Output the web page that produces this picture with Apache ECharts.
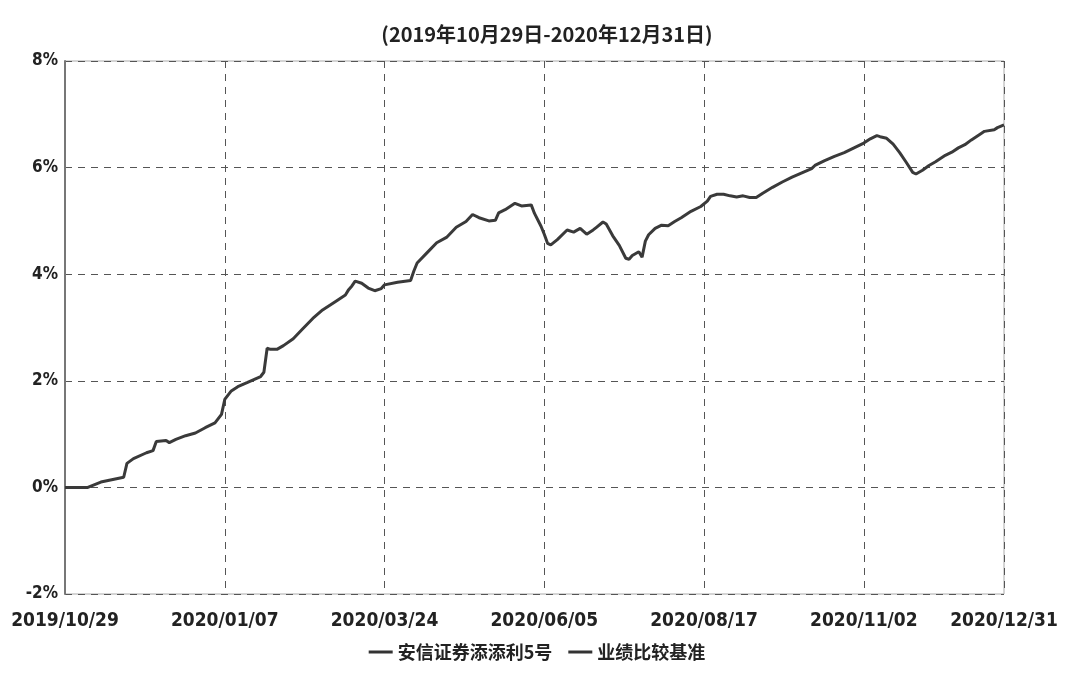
<!DOCTYPE html>
<html>
<head>
<meta charset="utf-8">
<script src="https://cdn.jsdelivr.net/npm/echarts@6/dist/echarts.min.js"></script>
<style>
html,body{margin:0;padding:0;background:#fff;}
#chart{width:1074px;height:690px;}
</style>
</head>
<body>
<div id="chart"></div>
<script>
// Trading-day index (0 = 2019/10/29, 288 = 2020/12/31)
const tickIdx = [0, 49, 98, 147, 196, 245, 288];
const tickLabels = ['2019/10/29', '2020/01/07', '2020/03/24', '2020/06/05', '2020/08/17', '2020/11/02', '2020/12/31'];
const yTicks = [-2, 0, 2, 4, 6, 8];

// Cumulative return of 安信证券添添利5号 (%)
const fundIdx = [0,7,11,18,19,21,25,27,28,31,32,34,37,40,43,46,48,49,51,53,56,60,61,62,63,65,67,70,73,76,79,83,86,87,88,89,91,93,95,97,98,102,106,107,108,111,114,117,120,123,125,127,130,132,133,135,138,140,143,144,146,147,148,149,151,154,156,158,160,162,163,165,166,168,170,172,173,174,176,177,178,179,181,183,185,187,189,192,195,197,198,200,202,204,206,208,210,212,214,217,220,223,226,229,230,233,236,239,242,245,247,249,250,252,254,256,258,260,261,263,265,267,270,272,274,276,278,281,282,285,286,288];
const fundRet = [0.00,0.00,0.10,0.19,0.45,0.54,0.65,0.69,0.86,0.88,0.84,0.90,0.97,1.02,1.12,1.21,1.37,1.65,1.81,1.89,1.97,2.08,2.16,2.61,2.59,2.59,2.66,2.79,2.98,3.17,3.33,3.49,3.61,3.71,3.78,3.87,3.83,3.74,3.69,3.73,3.80,3.85,3.88,4.06,4.21,4.40,4.59,4.69,4.88,4.99,5.12,5.06,5.00,5.01,5.15,5.21,5.33,5.28,5.30,5.14,4.90,4.75,4.58,4.55,4.65,4.83,4.79,4.86,4.75,4.83,4.88,4.98,4.94,4.72,4.54,4.30,4.28,4.35,4.42,4.32,4.62,4.74,4.86,4.92,4.91,4.99,5.06,5.18,5.27,5.37,5.46,5.50,5.50,5.47,5.45,5.47,5.44,5.44,5.52,5.63,5.73,5.82,5.90,5.98,6.04,6.13,6.21,6.28,6.37,6.46,6.54,6.60,6.58,6.55,6.44,6.28,6.10,5.91,5.88,5.95,6.04,6.11,6.23,6.29,6.37,6.43,6.52,6.64,6.68,6.71,6.75,6.80];

// Benchmark: no line visible in the picture
const benchIdx = [];
const benchRet = [];

const seriesNames = ['安信证券添添利5号', '业绩比较基准'];
const titleText = '(2019年10月29日-2020年12月31日)';

const chart = echarts.init(document.getElementById('chart'), null, {renderer: 'canvas'});
const labelFont = '"Liberation Sans Narrow","DejaVu Sans Condensed","Arial Narrow",sans-serif';
const option = {
  backgroundColor: '#ffffff',
  animation: false,
  title: {
    text: titleText,
    left: 542, top: 19, textAlign: 'center',
    textStyle: {fontFamily: '"Noto Sans CJK SC",sans-serif', fontSize: 20, fontWeight: 'bold', color: '#222'}
  },
  legend: {
    bottom: 24, left: 'center',
    icon: 'rect', itemWidth: 24, itemHeight: 3, itemGap: 16,
    textStyle: {fontFamily: '"Noto Sans CJK SC",sans-serif', fontSize: 18, fontWeight: 'bold', color: '#222'},
    data: seriesNames
  },
  grid: {left: 65, right: 70, top: 61, bottom: 96, show: true, borderColor: '#aaa', borderWidth: 1},
  xAxis: {
    type: 'value', min: 0, max: 288, interval: 49,
    axisLine: {show: false}, axisTick: {show: false},
    splitLine: {show: true, lineStyle: {color: '#555', type: [7, 6], width: 1}},
    axisLabel: {
      show: true, margin: 18, showMaxLabel: true, showMinLabel: true,
      fontFamily: labelFont, fontSize: 19, fontWeight: 'bold', color: '#222',
      formatter: v => { const i = tickIdx.indexOf(Math.round(v)); return i >= 0 ? tickLabels[i] : ''; }
    }
  },
  yAxis: {
    type: 'value', min: yTicks[0], max: yTicks[yTicks.length - 1], interval: 2,
    axisLine: {show: true, lineStyle: {color: '#777', width: 2}}, axisTick: {show: false},
    splitLine: {show: true, lineStyle: {color: '#555', type: [7, 6], width: 1}},
    axisLabel: {margin: 7, fontFamily: labelFont, fontSize: 17, fontWeight: 'bold', color: '#222', formatter: v => v + '%'}
  },
  series: [
    {
      name: seriesNames[0], type: 'line', symbol: 'none', smooth: false,
      color: '#333',
      lineStyle: {color: '#3a3a3a', width: 3},
      data: fundIdx.map((x, i) => [x, fundRet[i]])
    },
    {
      name: seriesNames[1], type: 'line', symbol: 'none',
      color: '#333',
      lineStyle: {color: '#3a3a3a', width: 3},
      data: benchIdx.map((x, i) => [x, benchRet[i]])
    }
  ]
};
chart.setOption(option);
</script>
</body>
</html>
